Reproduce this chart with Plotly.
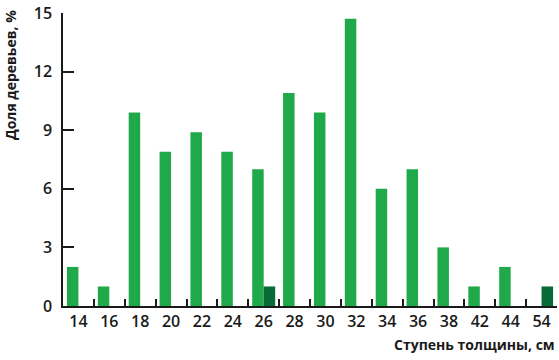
import plotly.graph_objects as go

categories = ["14", "16", "18", "20", "22", "24", "26", "28", "30", "32", "34", "36", "38", "42", "44", "54"]
share_main = [2, 1, 9.9, 7.9, 8.9, 7.9, 7, 10.9, 9.9, 14.7, 6, 7, 3, 1, 2, 0]
share_dark = [0, 0, 0, 0, 0, 0, 1, 0, 0, 0, 0, 0, 0, 0, 0, 1]
y_ticks = [0, 3, 6, 9, 12, 15]

FONT = "Open Sans"

fig = go.Figure()
fig.add_bar(x=categories, y=share_main, marker_color="#20a94a", marker_line_width=0, name="a")
fig.add_bar(x=categories, y=share_dark, marker_color="#086a37", marker_line_width=0, name="b")

fig.update_layout(
    width=559, height=360,
    margin=dict(l=63, r=2, t=5, b=54),
    paper_bgcolor="white", plot_bgcolor="white",
    barmode="group", bargap=0.255, bargroupgap=0,
    showlegend=False,
    font=dict(family=FONT, size=16, color="#1a1a1a", weight=600),
)
fig.update_xaxes(
    type="category", tickson="boundaries", ticks="inside", ticklen=7, tickwidth=1.5,
    tickcolor="#1a1a1a", showline=True, linecolor="#1a1a1a", linewidth=1.5,
    showgrid=False, zeroline=False, fixedrange=True, ticklabeloverflow="allow",
    tickfont=dict(family=FONT, size=16, color="#1a1a1a", weight=600),
)
fig.update_yaxes(
    range=[0, 15], tickvals=y_ticks, ticks="inside", ticklen=11, tickwidth=1.5,
    tickcolor="#1a1a1a", showline=True, linecolor="#1a1a1a", linewidth=1.5,
    showgrid=False, zeroline=False, ticklabelstandoff=6, ticklabeloverflow="allow",
    fixedrange=True,
    tickfont=dict(family=FONT, size=16, color="#1a1a1a", weight=600),
)
fig.add_annotation(
    text="Ступень толщины, см", xref="paper", yref="paper", x=1, y=0,
    xanchor="right", yanchor="top", yshift=-27, showarrow=False,
    font=dict(family=FONT, size=14, color="#1a1a1a", weight=700),
)
fig.add_annotation(
    text="Доля деревьев, %", xref="paper", yref="paper", x=0, y=1,
    xanchor="center", yanchor="top", xshift=-53, yshift=5, textangle=-90, showarrow=False,
    font=dict(family=FONT, size=14, color="#1a1a1a", weight=700),
)
fig.write_html("out.html", config={"displayModeBar": False},
               post_script="document.body.style.margin='0';")
